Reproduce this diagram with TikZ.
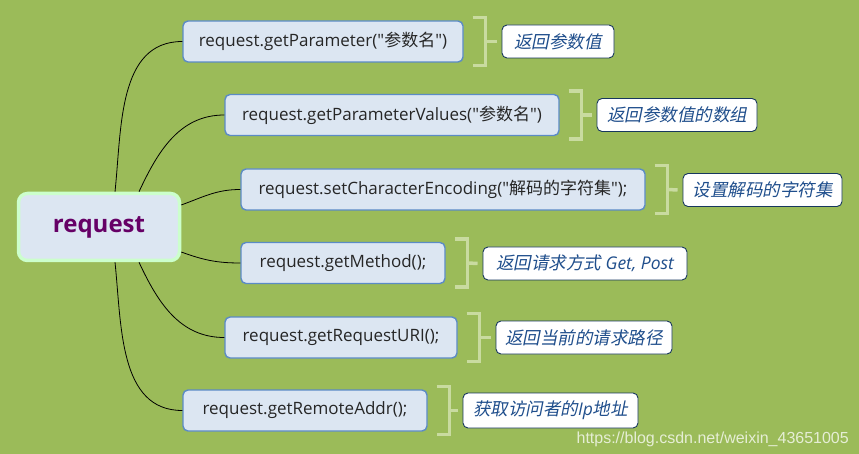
\documentclass[tikz,border=0pt]{standalone}
\usepackage{fontspec}
\setmainfont{Open Sans}[Ligatures=TeXOff]
\newfontfamily\cjk{Noto Sans CJK SC}[Ligatures=TeXOff]
\newfontfamily\cjkit[FakeSlant=0.2]{Noto Sans CJK SC}
\newfontfamily\wmfont{Liberation Sans}
\newcommand{\dq}{\symbol{34}}
\definecolor{bg}{HTML}{9BBB59}
\definecolor{boxfill}{HTML}{DCE6F2}
\definecolor{boxline}{HTML}{5B8BC6}
\definecolor{rootline}{HTML}{CCFFCC}
\definecolor{roottext}{HTML}{660066}
\definecolor{lblline}{HTML}{17375E}
\definecolor{lbltext}{HTML}{1F4E8C}
\definecolor{brk}{HTML}{C9DBA0}
\tikzset{
  x=1pt, y=-1pt,
  rootbox/.style={draw=rootline, line width=3.5pt, fill=boxfill, rounded corners=9pt,
    minimum width=161pt, minimum height=67pt, inner sep=0pt,
    font=\fontsize{24}{28}\selectfont\bfseries, text=roottext},
  childbox/.style={draw=boxline, line width=1.4pt, fill=boxfill, rounded corners=5pt,
    minimum height=41pt, inner sep=0pt, font=\fontsize{17}{20}\selectfont, text=black!85},
  lblbox/.style={draw=lblline, line width=0.9pt, fill=white, rounded corners=5pt,
    minimum height=33pt, inner sep=0pt, font=\fontsize{17.5}{20}\selectfont\itshape, text=lbltext},
  conn/.style={draw=black, line width=0.8pt},
  brkline/.style={draw=brk, line width=3.5pt},
  brkstub/.style={draw=brk, line width=3.5pt}
}
\newcommand{\bracketto}[2]{%
  \draw[brkline] ([xshift=9pt,yshift=3pt]#1.north east) -- ([xshift=22pt,yshift=3pt]#1.north east)
     -- ([xshift=22pt,yshift=-3pt]#1.south east) -- ([xshift=9pt,yshift=-3pt]#1.south east);
  \draw[brkstub] ([xshift=22pt]#1.east) -- ([xshift=-5pt]#2.west);
}
\begin{document}
\begin{tikzpicture}
\fill[bg] (0,0) rectangle (859,454);
\useasboundingbox (0,0) rectangle (859,454);

\node[rootbox] (root) at (99,227) {request};

\node[childbox, minimum width=280pt] (c1) at (323,41.5) {request.getParameter(\dq{\cjk 参数名}\dq)};
\node[childbox, minimum width=334pt] (c2) at (392,115) {request.getParameterValues(\dq{\cjk 参数名}\dq)};
\node[childbox, minimum width=404pt] (c3) at (443,189.5) {request.setCharacterEncoding(\dq{\cjk 解码的字符集}\dq);};
\node[childbox, minimum width=204pt] (c4) at (343,263) {request.getMethod();};
\node[childbox, minimum width=232pt] (c5) at (341,337.5) {request.getRequestURI();};
\node[childbox, minimum width=244pt] (c6) at (305,410.5) {request.getRemoteAddr();};

\node[lblbox, minimum width=112pt] (l1) at (558,41.5) {\cjkit 返回参数值};
\node[lblbox, minimum width=160pt] (l2) at (677,115) {\cjkit 返回参数值的数组};
\node[lblbox, minimum width=159pt] (l3) at (762.5,190) {\cjkit 设置解码的字符集};
\node[lblbox, minimum width=204pt] (l4) at (585,263.5) {{\cjkit 返回请求方式} Get, Post};
\node[lblbox, minimum width=176pt] (l5) at (584,337.5) {\cjkit 返回当前的请求路径};
\node[lblbox, minimum width=175pt, minimum height=35pt] (l6) at (550.5,410.5) {{\cjkit 获取访问者的}Ip{\cjkit 地址}};

\coordinate (r1) at ([xshift=16pt]root.north);
\coordinate (r2) at ([xshift=40pt]root.north);
\coordinate (r3) at ([yshift=22pt]root.east);
\coordinate (r4) at ([yshift=-25pt]root.east);
\coordinate (r5) at ([xshift=40pt]root.south);
\coordinate (r6) at ([xshift=16pt]root.south);

\draw[conn] (r1) to[out=84,in=180] (c1.west);
\draw[conn] (r2) to[out=65,in=180] (c2.west);
\draw[conn] (r3) to[out=20,in=180] (c3.west);
\draw[conn] (r4) to[out=-20,in=180] (c4.west);
\draw[conn] (r5) to[out=-65,in=180] (c5.west);
\draw[conn] (r6) to[out=-84,in=180] (c6.west);

\bracketto{c1}{l1}
\bracketto{c2}{l2}
\bracketto{c3}{l3}
\bracketto{c4}{l4}
\bracketto{c5}{l5}
\bracketto{c6}{l6}

\node[font=\wmfont\fontsize{16}{18}\selectfont, text=white, opacity=0.75, anchor=east, inner sep=0pt] (wm) at (849,439) {https://blog.csdn.net/weixin\_43651005};
\end{tikzpicture}
\end{document}
